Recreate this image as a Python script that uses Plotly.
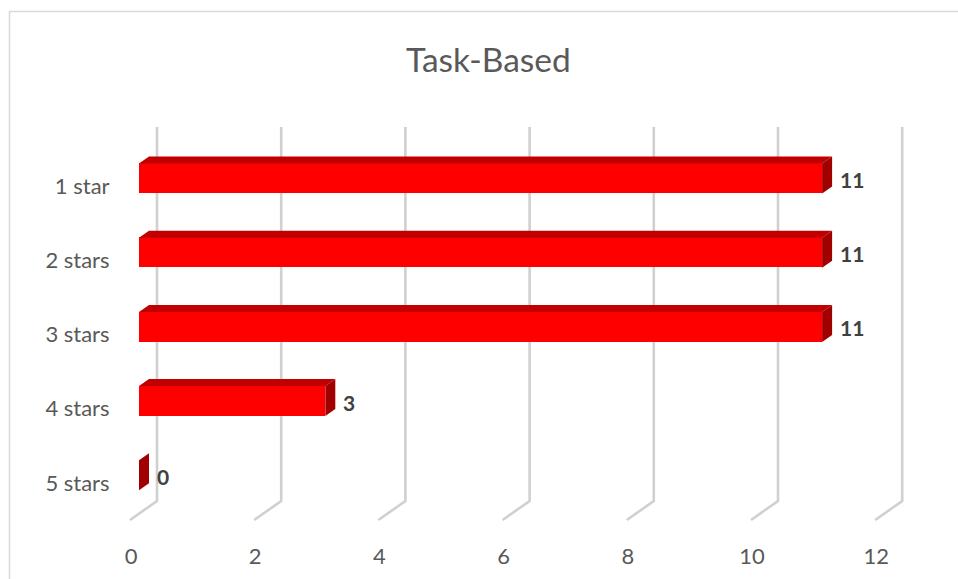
import plotly.graph_objects as go

categories = ["1 star", "2 stars", "3 stars", "4 stars", "5 stars"]
values = [11, 11, 11, 3, 0]
tick_vals = [0, 2, 4, 6, 8, 10, 12]
title = "Task-Based"

W, H = 958, 579
UNIT = 62.1      # px per value unit
BAND = 74.2      # px per category band
FONT = "Lato, Carlito, sans-serif"
TXT = "#595959"
GRID = "#D0D0D0"


def dom_x(left):
    return [left / W, (left + 12 * UNIT) / W]


def dom_y(top, bottom):
    return [1 - bottom / H, 1 - top / H]


fig = go.Figure()

# wall plane (subplot 1): x=0 at px 157, y=0 at px 501, y=1 at px 127
WALL_L, WALL_R, WALL_T, WALL_B = 110, 930, 120, 530
WALL_H = 374
for t in tick_vals:
    fig.add_trace(go.Scatter(x=[t - 27 / UNIT, t, t], y=[-19 / WALL_H, 0, 1],
                             xaxis="x", yaxis="y", mode="lines",
                             line=dict(color=GRID, width=2.6),
                             hoverinfo="skip", showlegend=False))

# front plane: category and value labels (subplot 2)
fig.add_trace(go.Scatter(x=[0] * 5, y=categories, xaxis="x2", yaxis="y2", mode="markers",
                         marker=dict(opacity=0), hoverinfo="skip", showlegend=False))

# bars plane (subplot 3)
bar_h = 30 / BAND
dx = 10 / UNIT
dy = 7 / BAND
y_idx = list(range(len(categories)))

fig.add_trace(go.Bar(x=values, y=y_idx, orientation="h", width=bar_h, xaxis="x3", yaxis="y3",
                     marker=dict(color="#FF0000", line=dict(width=0)),
                     hoverinfo="skip", showlegend=False))

for i, v in zip(y_idx, values):
    t, b = i - bar_h / 2, i + bar_h / 2
    if v > 0:
        fig.add_trace(go.Scatter(x=[0, v, v + dx, dx, 0], y=[t, t, t - dy, t - dy, t],
                                 xaxis="x3", yaxis="y3", mode="lines", fill="toself",
                                 fillcolor="#C00000", line=dict(width=0, color="#C00000"),
                                 hoverinfo="skip", showlegend=False))
    fig.add_trace(go.Scatter(x=[v, v + dx, v + dx, v, v], y=[t, t - dy, b - dy, b, t],
                             xaxis="x3", yaxis="y3", mode="lines", fill="toself",
                             fillcolor="#A00000", line=dict(width=0, color="#A00000"),
                             hoverinfo="skip", showlegend=False))

annotations = [
    dict(x=v, y=i, xref="x3", yref="y3", text=f"<b>{v}</b>", showarrow=False,
         xanchor="left", xshift=16, yshift=-1,
         font=dict(family=FONT, size=21, color="#404040"))
    for i, v in zip(y_idx, values)
]
annotations.append(dict(x=488.5 / W, y=1 - 59 / H, xref="paper", yref="paper", text=title,
                        showarrow=False, xanchor="center", yanchor="middle",
                        font=dict(family=FONT, size=33.5, color=TXT)))

# chart area border
shapes = [dict(type="path", xref="paper", yref="paper",
               path=f"M {9.5/W} 0 L {9.5/W} {1-11.5/H} L 1 {1-11.5/H}",
               line=dict(color="#D9D9D9", width=1.5))]

fig.update_layout(
    width=W, height=H, margin=dict(l=0, r=0, t=0, b=0, autoexpand=False),
    paper_bgcolor="white", plot_bgcolor="rgba(0,0,0,0)",
    showlegend=False, annotations=annotations, shapes=shapes, bargap=0,
    xaxis=dict(domain=[WALL_L / W, WALL_R / W],
               range=[(WALL_L - 157) / UNIT, (WALL_R - 157) / UNIT],
               visible=False, anchor="y"),
    yaxis=dict(domain=dom_y(WALL_T, WALL_B),
               range=[(501 - WALL_B) / WALL_H, (501 - WALL_T) / WALL_H],
               visible=False, anchor="x"),
    xaxis2=dict(domain=dom_x(131), range=[0, 12], tickvals=tick_vals, showgrid=False,
                zeroline=False, showline=False, ticks="outside", ticklen=17,
                tickcolor="rgba(0,0,0,0)", anchor="y2",
                tickfont=dict(family=FONT, size=22, color=TXT)),
    yaxis2=dict(domain=dom_y(149, 520), type="category", categoryorder="array",
                categoryarray=categories, autorange=False, range=[4.5, -0.5],
                showgrid=False, zeroline=False, showline=False, ticks="outside", ticklen=16,
                tickcolor="rgba(0,0,0,0)", anchor="x2",
                tickfont=dict(family=FONT, size=22, color=TXT)),
    xaxis3=dict(domain=dom_x(139), range=[0, 12], visible=False, anchor="y3"),
    yaxis3=dict(domain=dom_y(141.4, 512.4), range=[4.5, -0.5], visible=False, anchor="x3"),
)

fig.write_html("out.html", config=dict(displayModeBar=False),
               post_script="document.body.style.margin='0';")
